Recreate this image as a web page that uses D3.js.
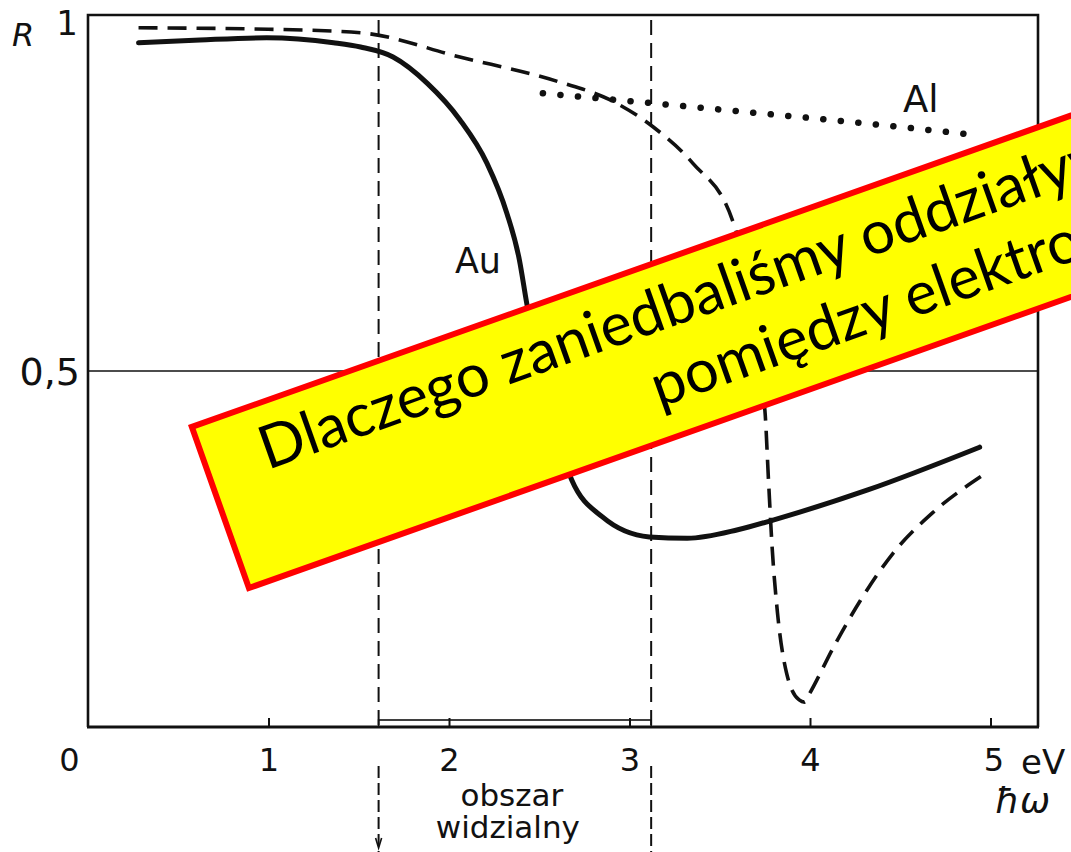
<!DOCTYPE html>
<html>
<head>
<meta charset="utf-8">
<script src="https://cdn.jsdelivr.net/npm/d3@7"></script>
<style>
  html, body { margin: 0; padding: 0; background: #fff; }
  svg { display: block; }
</style>
</head>
<body>
<svg id="chart" width="1071" height="852"></svg>
<script>
// Reflectance R of metals versus photon energy ħω (eV)
const xTicks = [0, 1, 2, 3, 4, 5];
const xTickLabels = ["0", "1", "2", "3", "4", "5"];
const yTicks = [0.5, 1];
const yTickLabels = ["0,5", "1"];
const visibleRange = [1.61, 3.12];   // eV, visible light band

const auEnergy = [0.28, 0.62, 0.99, 1.36, 1.51, 1.69, 1.88, 2.06, 2.21, 2.32, 2.39, 2.43, 2.68, 2.85, 3.11, 3.32, 3.60, 3.80, 4.32, 4.94];
const auR      = [0.961, 0.965, 0.968, 0.961, 0.955, 0.941, 0.904, 0.853, 0.792, 0.722, 0.656, 0.596, 0.347, 0.295, 0.267, 0.265, 0.277, 0.291, 0.333, 0.393];

const agEnergy = [0.28, 1.00, 1.51, 2.06, 2.61, 2.89, 3.13, 3.35, 3.57, 3.75, 3.77, 3.79, 3.82, 3.87, 3.94, 3.97, 4.00, 4.13, 4.28, 4.46, 4.68, 4.96];
const agR      = [0.982, 0.980, 0.975, 0.941, 0.906, 0.881, 0.843, 0.792, 0.712, 0.445, 0.347, 0.253, 0.160, 0.076, 0.038, 0.035, 0.048, 0.112, 0.178, 0.244, 0.301, 0.354];

const alEnergy = [2.52, 3.13, 3.72, 4.30, 4.93];
const alR      = [0.890, 0.876, 0.862, 0.848, 0.831];

const noteLines = ["Dlaczego zaniedbaliśmy oddziaływania", "pomiędzy elektronami?"];

const svg = d3.select("#chart");
const x = d3.scaleLinear().domain([0, 5]).range([88, 990.5]);
const y = d3.scaleLinear().domain([0, 1]).range([727, 15]);
const frameRight = 1038;
const ink = "#111";
const labelFont = "'DejaVu Sans', sans-serif";

// gridline at R = 0,5
svg.append("line")
  .attr("x1", x(0)).attr("x2", frameRight)
  .attr("y1", y(0.5)).attr("y2", y(0.5))
  .attr("stroke", ink).attr("stroke-width", 1.6);

// frame: left, top, right
svg.append("path")
  .attr("d", `M${x(0)},${y(0)} V${y(1)} H${frameRight} V${y(0)}`)
  .attr("fill", "none").attr("stroke", ink).attr("stroke-width", 2.6);

// visible band marker along the axis
svg.append("rect")
  .attr("x", x(visibleRange[0])).attr("y", y(0) - 7)
  .attr("width", x(visibleRange[1]) - x(visibleRange[0])).attr("height", 7)
  .attr("fill", "none").attr("stroke", ink).attr("stroke-width", 1.6);

// visible band boundaries (inside plot and below the axis)
visibleRange.forEach(e => {
  svg.append("line")
    .attr("x1", x(e)).attr("x2", x(e)).attr("y1", y(1) + 5).attr("y2", y(0))
    .attr("stroke", ink).attr("stroke-width", 2).attr("stroke-dasharray", "15,8");
  svg.append("line")
    .attr("x1", x(e)).attr("x2", x(e)).attr("y1", 766).attr("y2", 852)
    .attr("stroke", ink).attr("stroke-width", 2).attr("stroke-dasharray", "12,5");
});
// small arrow head on the lower-left marker
svg.append("path")
  .attr("d", `M${x(visibleRange[0]) - 3},838 L${x(visibleRange[0])},848 L${x(visibleRange[0]) + 3},838`)
  .attr("fill", "none").attr("stroke", ink).attr("stroke-width", 1.6);

// bottom axis
const xAxis = d3.axisBottom(x)
  .tickValues(xTicks)
  .tickSize(-9)
  .tickPadding(21)
  .tickFormat((d, i) => xTickLabels[i]);
const gx = svg.append("g").attr("transform", `translate(0,${y(0)})`).call(xAxis);
gx.select(".domain").remove();
gx.selectAll(".tick line").attr("stroke", ink).attr("stroke-width", 2)
  .attr("opacity", d => d === 0 ? 0 : 1);
gx.selectAll(".tick text")
  .attr("font-family", labelFont).attr("font-size", 32).attr("fill", ink)
  .attr("dx", d => d === 0 ? -19 : (d === 5 ? 3 : 0));
svg.append("line")
  .attr("x1", x(0) - 1).attr("x2", frameRight + 1)
  .attr("y1", y(0)).attr("y2", y(0))
  .attr("stroke", ink).attr("stroke-width", 3);

// left axis labels
const yAxis = d3.axisLeft(y)
  .tickValues(yTicks)
  .tickSize(0)
  .tickPadding(8)
  .tickFormat((d, i) => yTickLabels[i]);
const gy = svg.append("g").attr("transform", `translate(${x(0)},0)`).call(yAxis);
gy.select(".domain").remove();
gy.selectAll(".tick text")
  .attr("font-family", labelFont).attr("fill", ink)
  .attr("font-size", d => d === 1 ? 34 : 38)
  .attr("dx", d => d === 1 ? -2 : 0)
  .attr("dy", d => d === 1 ? "0.58em" : "0.36em");

// axis titles
svg.append("text").attr("x", 12).attr("y", 46).text("R")
  .attr("font-family", labelFont).attr("font-style", "italic").attr("font-size", 32).attr("fill", ink);
svg.append("text").attr("x", 1021).attr("y", 774).text("eV")
  .attr("font-family", labelFont).attr("font-size", 34).attr("fill", ink);
svg.append("text").attr("x", 995).attr("y", 813).text("ħω")
  .attr("font-family", labelFont).attr("font-style", "italic").attr("font-size", 36).attr("fill", ink);
const bandMid = (x(visibleRange[0]) + x(visibleRange[1])) / 2 - 3;
svg.append("text").attr("x", bandMid).attr("y", 806).text("obszar")
  .attr("text-anchor", "middle").attr("font-family", labelFont).attr("font-size", 31).attr("fill", ink);
svg.append("text").attr("x", bandMid - 4).attr("y", 838).text("widzialny")
  .attr("text-anchor", "middle").attr("font-family", labelFont).attr("font-size", 31).attr("fill", ink);

// curves
const line = d3.line().x(d => x(d[0])).y(d => y(d[1])).curve(d3.curveMonotoneX);

svg.append("path").datum(d3.zip(alEnergy, alR)).attr("d", line)
  .attr("fill", "none").attr("stroke", ink).attr("stroke-width", 6.5)
  .attr("stroke-linecap", "round").attr("stroke-dasharray", "0.1,17.5");

svg.append("path").datum(d3.zip(agEnergy, agR)).attr("d", line)
  .attr("fill", "none").attr("stroke", ink).attr("stroke-width", 3.6)
  .attr("stroke-dasharray", "19,10");

svg.append("path").datum(d3.zip(auEnergy, auR)).attr("d", line)
  .attr("fill", "none").attr("stroke", ink).attr("stroke-width", 5)
  .attr("stroke-linecap", "round");

// curve labels
svg.append("text").attr("x", 478).attr("y", 273).text("Au")
  .attr("text-anchor", "middle").attr("font-family", labelFont).attr("font-size", 35).attr("fill", ink);
svg.append("text").attr("x", 903).attr("y", 112).text("Al")
  .attr("font-family", labelFont).attr("font-size", 37).attr("fill", ink);

// question banner
const note = svg.append("g").attr("transform", "translate(188,425) rotate(-19.5)");
note.append("rect")
  .attr("x", 3).attr("y", 3).attr("width", 1150).attr("height", 171)
  .attr("fill", "#ffff00").attr("stroke", "#ff0000").attr("stroke-width", 6);
const noteFont = "Lato, 'Open Sans', sans-serif";
const t1 = note.append("text").attr("x", 60).attr("y", 69)
  .attr("font-family", noteFont).attr("font-size", 100).attr("fill", "#000").text(noteLines[0]);
const prefixLen = t1.node().getSubStringLength(0, 31);
const noteSize = 100 * 858 / prefixLen;
t1.attr("font-size", noteSize);
note.append("text").attr("x", 450).attr("y", 141)
  .attr("font-family", noteFont).attr("font-size", noteSize).attr("fill", "#000").text(noteLines[1]);
</script>
</body>
</html>
